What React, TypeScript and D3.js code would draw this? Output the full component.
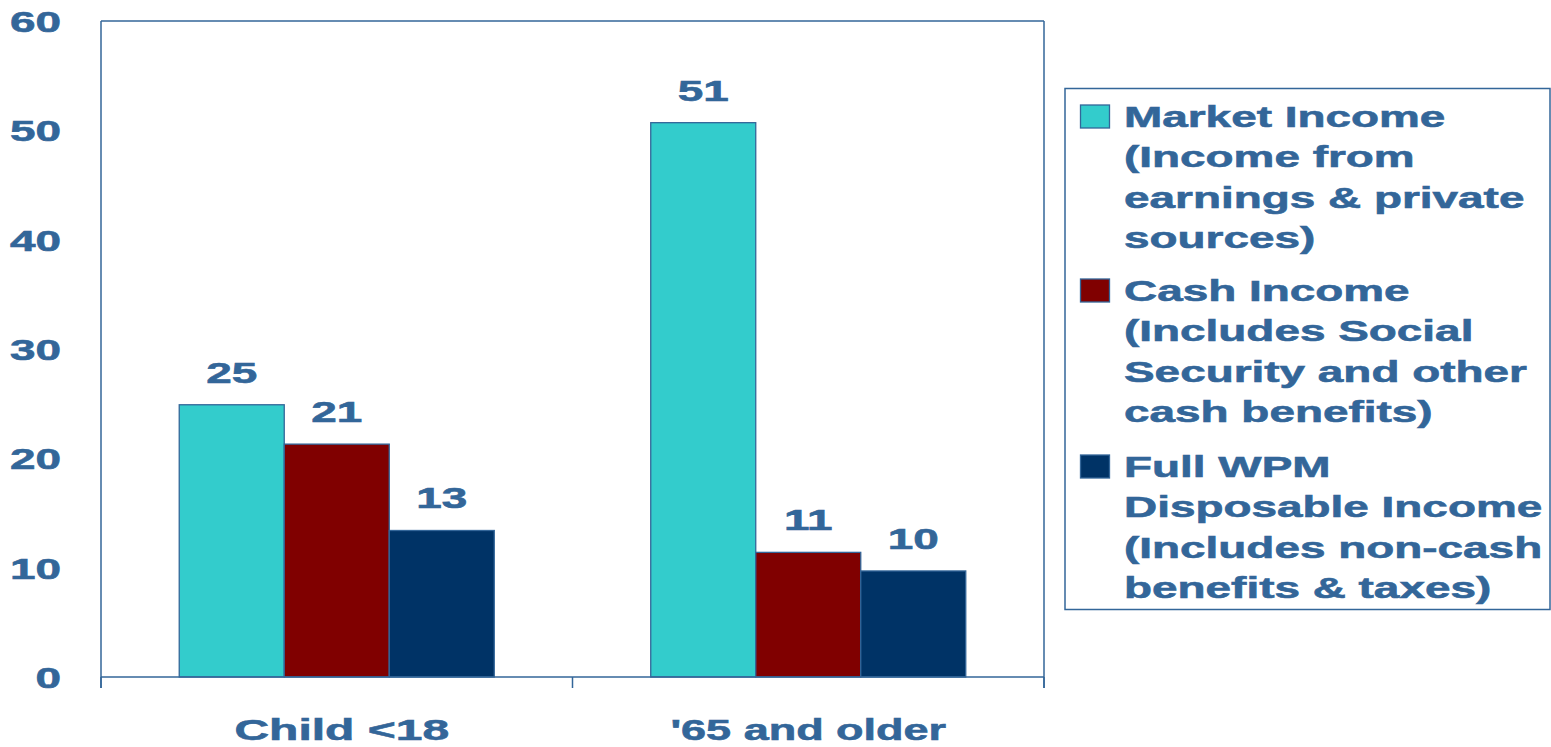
import React from "react";
import * as d3 from "d3";

const categories = ["Child <18", "'65 and older"];
const seriesNames = ["Market Income", "Cash Income", "Full WPM"];
const marketIncome = [24.9, 50.7];
const cashIncome = [21.3, 11.4];
const fullWPM = [13.4, 9.7];
const seriesColors = ["#33CCCC", "#800000", "#003366"];
const legendLines = [
  ["Market Income", "(Income from", "earnings & private", "sources)"],
  ["Cash Income", "(Includes Social", "Security and other", "cash benefits)"],
  ["Full WPM", "Disposable Income", "(Includes non-cash", "benefits & taxes)"],
];
const yTicks = [0, 10, 20, 30, 40, 50, 60];

const W = 1551;
const H = 747;
const TEXT = "#336699";
const FONT = "'Liberation Sans', Arial, sans-serif";
const SX = 1.53;

export default function App() {
  const left = 101, right = 1044, top = 21, bottom = 677;
  const y = d3.scaleLinear().domain([0, 60]).range([bottom, top]);
  const x0 = d3.scaleBand().domain(categories).range([left, right]).padding(0);
  const x1 = d3
    .scaleBand()
    .domain(seriesNames)
    .range([0, x0.bandwidth()])
    .paddingInner(0)
    .paddingOuter(0.745);
  const seriesValues = [marketIncome, cashIncome, fullWPM];
  const fmt = d3.format(".0f");

  const T = (props: { x: number; y: number; anchor?: string; sx?: number; children: React.ReactNode }) => (
    <text
      transform={`translate(${props.x},${props.y}) scale(${props.sx || SX},1)`}
      textAnchor={props.anchor || "start"}
      fontFamily={FONT}
      fontWeight="bold"
      fontSize={30}
      fill={TEXT}
      stroke={TEXT}
      strokeWidth={0.6}
    >
      {props.children}
    </text>
  );

  const legendBaselines = [127, 301, 477];
  const lineH = 40.3;
  const catSx = [1.6, 1.5];
  const catDx = [5, 0];

  return (
    <svg width={W} height={H} style={{ position: "absolute", left: 0, top: 0 }}>
      <rect width={W} height={H} fill="#fff" />
      {categories.map((c, ci) =>
        seriesNames.map((s, si) => {
          const v = seriesValues[si][ci];
          const bx = (x0(c) as number) + (x1(s) as number);
          const bw = x1.bandwidth();
          return (
            <g key={c + s}>
              <rect
                x={bx}
                y={y(v)}
                width={bw}
                height={y(0) - y(v)}
                fill={seriesColors[si]}
                stroke="#336699"
                strokeWidth={1.3}
              />
              <T x={bx + bw / 2} y={y(v) - 22} anchor="middle">
                {fmt(v)}
              </T>
            </g>
          );
        })
      )}
      <line x1={left} x2={right} y1={top} y2={top} stroke="#336699" strokeWidth={1.5} />
      <line x1={right} x2={right} y1={top} y2={688} stroke="#336699" strokeWidth={1.5} />
      <line x1={left} x2={left} y1={top} y2={688} stroke="#336699" strokeWidth={1.5} />
      <line x1={left} x2={right} y1={bottom} y2={bottom} stroke="#336699" strokeWidth={1.5} />
      {[left, x0(categories[1]) as number, right].map((tx, i) => (
        <line key={i} x1={tx} x2={tx} y1={bottom} y2={688} stroke="#336699" strokeWidth={1.5} />
      ))}
      {yTicks.map((t) => (
        <T key={t} x={61} y={y(t) + 11} anchor="end">
          {t}
        </T>
      ))}
      {categories.map((c, i) => (
        <T key={c} x={(x0(c) as number) + x0.bandwidth() / 2 + catDx[i]} y={740} anchor="middle" sx={catSx[i]}>
          {c}
        </T>
      ))}
      <rect x={1065} y={88.5} width={485} height={521} fill="none" stroke="#336699" strokeWidth={1.5} />
      {legendLines.map((lines, i) => (
        <g key={i}>
          <rect
            x={1080.5}
            y={legendBaselines[i] - 22}
            width={29}
            height={23}
            fill={seriesColors[i]}
            stroke="#336699"
            strokeWidth={1.3}
          />
          {lines.map((l, j) => (
            <T key={j} x={1124} y={legendBaselines[i] + j * lineH}>
              {l}
            </T>
          ))}
        </g>
      ))}
    </svg>
  );
}
